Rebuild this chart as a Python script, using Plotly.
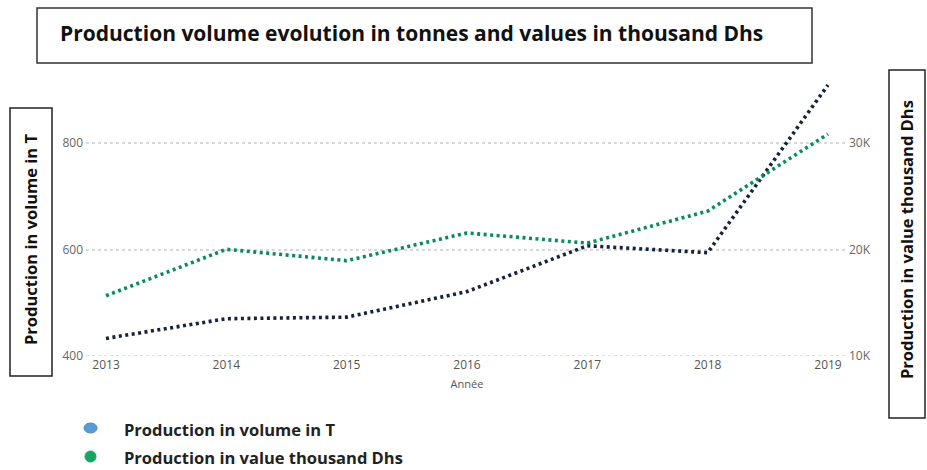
import plotly.graph_objects as go

years = [2013, 2014, 2015, 2016, 2017, 2018, 2019]
volume_t = [433, 470, 473, 521, 607, 594, 909]
value_kdhs = [15660, 20020, 18950, 21550, 20600, 23600, 30850]
left_ticks = [400, 600, 800]
right_ticks = [10000, 20000, 30000]
right_ticktext = ["10K", "20K", "30K"]

W, H = 927, 470
L, R, T, B = 86, 79, 78, 114
PW, PH = W - L - R, H - T - B

def px(x):
    return (x - L) / PW

def py(y):
    return (H - B - y) / PH

navy = "#14213f"
green = "#0b8a5c"
FONT = "Open Sans, Lato, sans-serif"

fig = go.Figure()
fig.add_trace(go.Scatter(x=years, y=volume_t, mode="lines", name="Production in volume in T",
                         line=dict(color=navy, width=3.6, dash="3px,3.5px"), yaxis="y"))
fig.add_trace(go.Scatter(x=years, y=value_kdhs, mode="lines", name="Production in value thousand Dhs",
                         line=dict(color=green, width=3.6, dash="3px,3.5px"), yaxis="y2"))

top_val = 800 + (143 - T) / 106.5 * 200
top_val2 = 30000 + (143 - T) / 106.5 * 10000

x0 = 2013 - (106 - L) / 120.3
x1 = 2019 + (W - R - 828) / 120.3

fig.update_layout(
    width=W, height=H,
    margin=dict(l=L, r=R, t=T, b=B),
    paper_bgcolor="white", plot_bgcolor="white",
    showlegend=False,
    font=dict(family=FONT),
    xaxis=dict(range=[x0, x1], tickvals=years, ticktext=[str(y) for y in years],
               showgrid=False, zeroline=False, showline=False, ticks="",
               tickfont=dict(size=12, color="#555"),
               title=dict(text="Année", font=dict(size=11, color="#555"), standoff=8)),
    yaxis=dict(range=[400, top_val], tickvals=left_ticks, showgrid=True, griddash="dot",
               gridcolor="#d8d8d8", gridwidth=1.5, zeroline=False, ticks="",
               tickfont=dict(size=12, color="#666"), ticklabelstandoff=2),
    yaxis2=dict(range=[10000, top_val2], overlaying="y", side="right", tickvals=right_ticks,
                ticktext=right_ticktext, showgrid=False, zeroline=False, ticks="",
                tickfont=dict(size=12, color="#666")),
)

shapes = [
    dict(type="line", xref="paper", yref="y", x0=0, x1=1, y0=400, y1=400,
         line=dict(color="#d8d8d8", width=1.5, dash="dot"), layer="below"),
    dict(type="rect", xref="paper", yref="paper", x0=px(37), x1=px(812), y0=py(63), y1=py(8),
         line=dict(color="#333", width=1.5)),
    dict(type="rect", xref="paper", yref="paper", x0=px(10), x1=px(52), y0=py(376), y1=py(108),
         line=dict(color="#222", width=1.5)),
    dict(type="rect", xref="paper", yref="paper", x0=px(889), x1=px(925), y0=py(418), y1=py(70),
         line=dict(color="#222", width=1.5)),
    dict(type="circle", xref="paper", yref="paper", x0=px(84), x1=px(97), y0=py(433), y1=py(423),
         fillcolor="#5b9bd5", line=dict(color="#4a8ac4", width=1)),
    dict(type="circle", xref="paper", yref="paper", x0=px(85), x1=px(96), y0=py(462), y1=py(451),
         fillcolor="#17a55f", line=dict(color="#17a55f", width=1)),
]
fig.update_layout(shapes=shapes)

ann = [
    dict(text="<b>Production volume evolution in tonnes and values in thousand Dhs</b>",
         x=px(58), y=py(33), xanchor="left", yanchor="middle", font=dict(size=21, color="#111")),
    dict(text="<b>Production in volume in T</b>", x=px(31), y=py(240), textangle=-90,
         xanchor="center", yanchor="middle", font=dict(size=16.5, color="#111")),
    dict(text="<b>Production in value thousand Dhs</b>", x=px(907), y=py(240), textangle=-90,
         xanchor="center", yanchor="middle", font=dict(size=16.5, color="#111")),
    dict(text="<b>Production in volume in T</b>", x=px(122), y=py(429), xanchor="left",
         yanchor="middle", font=dict(size=16.5, color="#222")),
    dict(text="<b>Production in value thousand Dhs</b>", x=px(122), y=py(457), xanchor="left",
         yanchor="middle", font=dict(size=16.5, color="#222")),
]
for a in ann:
    a.update(xref="paper", yref="paper", showarrow=False)
fig.update_layout(annotations=ann)

fig.write_html("out.html")
